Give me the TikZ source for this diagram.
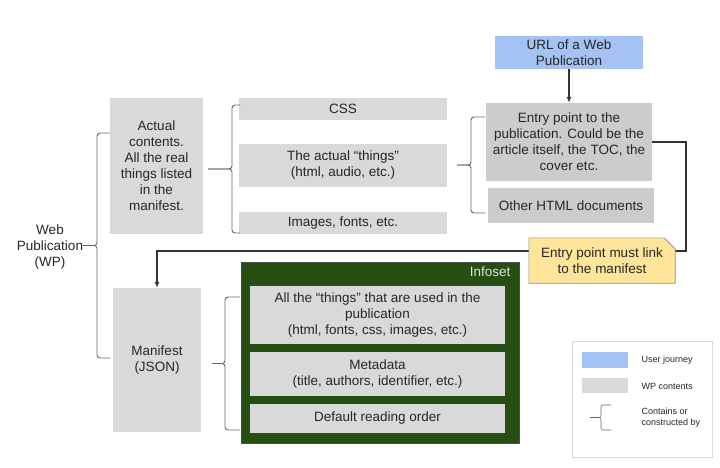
\documentclass[tikz,border=0pt]{standalone}
\usepackage{fontspec}
\setmainfont{Liberation Sans}
\usetikzlibrary{arrows.meta}

\definecolor{journeyblue}{HTML}{A4C2F4}
\definecolor{contentgray}{HTML}{D9D9D9}
\definecolor{entrygray}{HTML}{CCCCCC}
\definecolor{noteyellow}{HTML}{FFE599}
\definecolor{infogreen}{HTML}{274E13}
\definecolor{linegray}{HTML}{333333}
\definecolor{bracegray}{HTML}{666666}

% brace: x of vertical, x of ends, x of tip, y top, y bottom
\newcommand{\wpbrace}[5]{%
  \draw[brace] (#2,#4) -- (#1,#4) -- (#1,{(#4+#5)/2}) -- (#3,{(#4+#5)/2});
  \draw[brace] (#3,{(#4+#5)/2}) -- (#1,{(#4+#5)/2}) -- (#1,#5) -- (#2,#5);
}

\begin{document}
\begin{tikzpicture}[x=1pt, y=-1pt,
    every node/.style={font=\fontsize{13.5}{16}\selectfont, text=black!85},
    wpbox/.style={fill=contentgray, inner sep=0pt, align=center},
    entrybox/.style={fill=entrygray, inner sep=0pt, align=center},
    brace/.style={draw=bracegray, line width=0.9pt, rounded corners=3pt},
    link/.style={draw=linegray, line width=1.2pt, -{Latex[length=6pt,width=5pt]}},
    legendtext/.style={font=\fontsize{9}{11}\selectfont, anchor=west, align=left}]

  \useasboundingbox (0,0) rectangle (720,468);

  % --- LEFT: THE WEB PUBLICATION ---
  \node[align=center] (wp) at (50,247) {Web\\Publication\\(WP)};
  \node[wpbox, minimum width=93pt, minimum height=136pt] (actual) at (156.5,166)
    {Actual\\contents.\\All the real\\things listed\\in the\\manifest.};
  \node[wpbox, minimum width=88pt, minimum height=144pt] (manifest) at (157,360)
    {Manifest\\(JSON)};
  \wpbrace{97}{110}{83}{133}{358}

  % --- MIDDLE: ACTUAL CONTENTS ---
  \node[wpbox, minimum width=208pt, minimum height=22pt] (css) at (343,109) {CSS};
  \node[wpbox, minimum width=208pt, minimum height=43pt] (things) at (343,165.5)
    {The actual ``things''\\(html, audio, etc.)};
  \node[wpbox, minimum width=208pt, minimum height=22pt] (images) at (343,223)
    {Images, fonts, etc.};
  \wpbrace{232}{240}{208}{105}{233}

  % --- RIGHT: ENTRY POINT ---
  \node[fill=journeyblue, inner sep=0pt, align=center, minimum width=148pt,
    minimum height=33pt] (url) at (569,52.5) {URL of a Web\\Publication};
  \node[entrybox, minimum width=166pt, minimum height=78pt] (entry) at (569,142)
    {Entry point to the\\publication. Could be the\\article itself, the TOC, the\\cover etc.};
  \node[entrybox, minimum width=166pt, minimum height=35pt] (other) at (571,205.5)
    {Other HTML documents};
  \wpbrace{471}{485}{457}{117}{213}

  \draw[link] (url) -- (entry);

  % entry point goes back to the manifest
  \coordinate (turn) at (686,251);
  \draw[link] (entry.east) -| (turn) -| (manifest.north);

  % Note with its corner cut off (drawn over the line)
  \node[inner sep=0pt, minimum width=146pt, minimum height=45pt] (note) at (602,260.5) {};
  \draw[fill=noteyellow, draw=black!45, line width=0.6pt] (note.north west)
    -- ([xshift=-11pt]note.north east) -- ([yshift=-11pt]note.north east)
    -- (note.south east) -- (note.south west) -- cycle;
  \node[inner sep=0pt, align=center] (notetext) at (note) {Entry point must link\\to the manifest};

  % --- BOTTOM: INFOSET ---
  \draw[fill=infogreen, draw=black!70, line width=0.6pt] (241,262) rectangle (519,443);
  \node[anchor=east, text=black!12] (infoset) at (514,272) {Infoset};
  \node[wpbox, minimum width=255pt, minimum height=58pt] (used) at (377.5,315)
    {All the ``things'' that are used in the\\publication\\(html, fonts, css, images, etc.)};
  \node[wpbox, minimum width=255pt, minimum height=44pt] (meta) at (377.5,374)
    {Metadata\\(title, authors, identifier, etc.)};
  \node[wpbox, minimum width=255pt, minimum height=29pt] (order) at (377.5,418.5)
    {Default reading order};
  \wpbrace{225}{240}{212}{297}{430}

  % --- LEGEND ---
  \draw[draw=black!15, line width=0.6pt] (572,341) rectangle (712,457);
  \fill[journeyblue] (582,352) rectangle (628,368);
  \fill[contentgray] (582,378) rectangle (628,393);
  \node[legendtext] (ljourney) at (638,360) {User journey};
  \node[legendtext] (lcontents) at (638,386) {WP contents};
  \node[legendtext] (lbrace) at (638,418) {Contains or\\constructed by};
  \begin{scope}[brace/.append style={line width=0.6pt, rounded corners=2pt}]
    \wpbrace{601}{611}{590}{405}{430}
  \end{scope}

\end{tikzpicture}
\end{document}
